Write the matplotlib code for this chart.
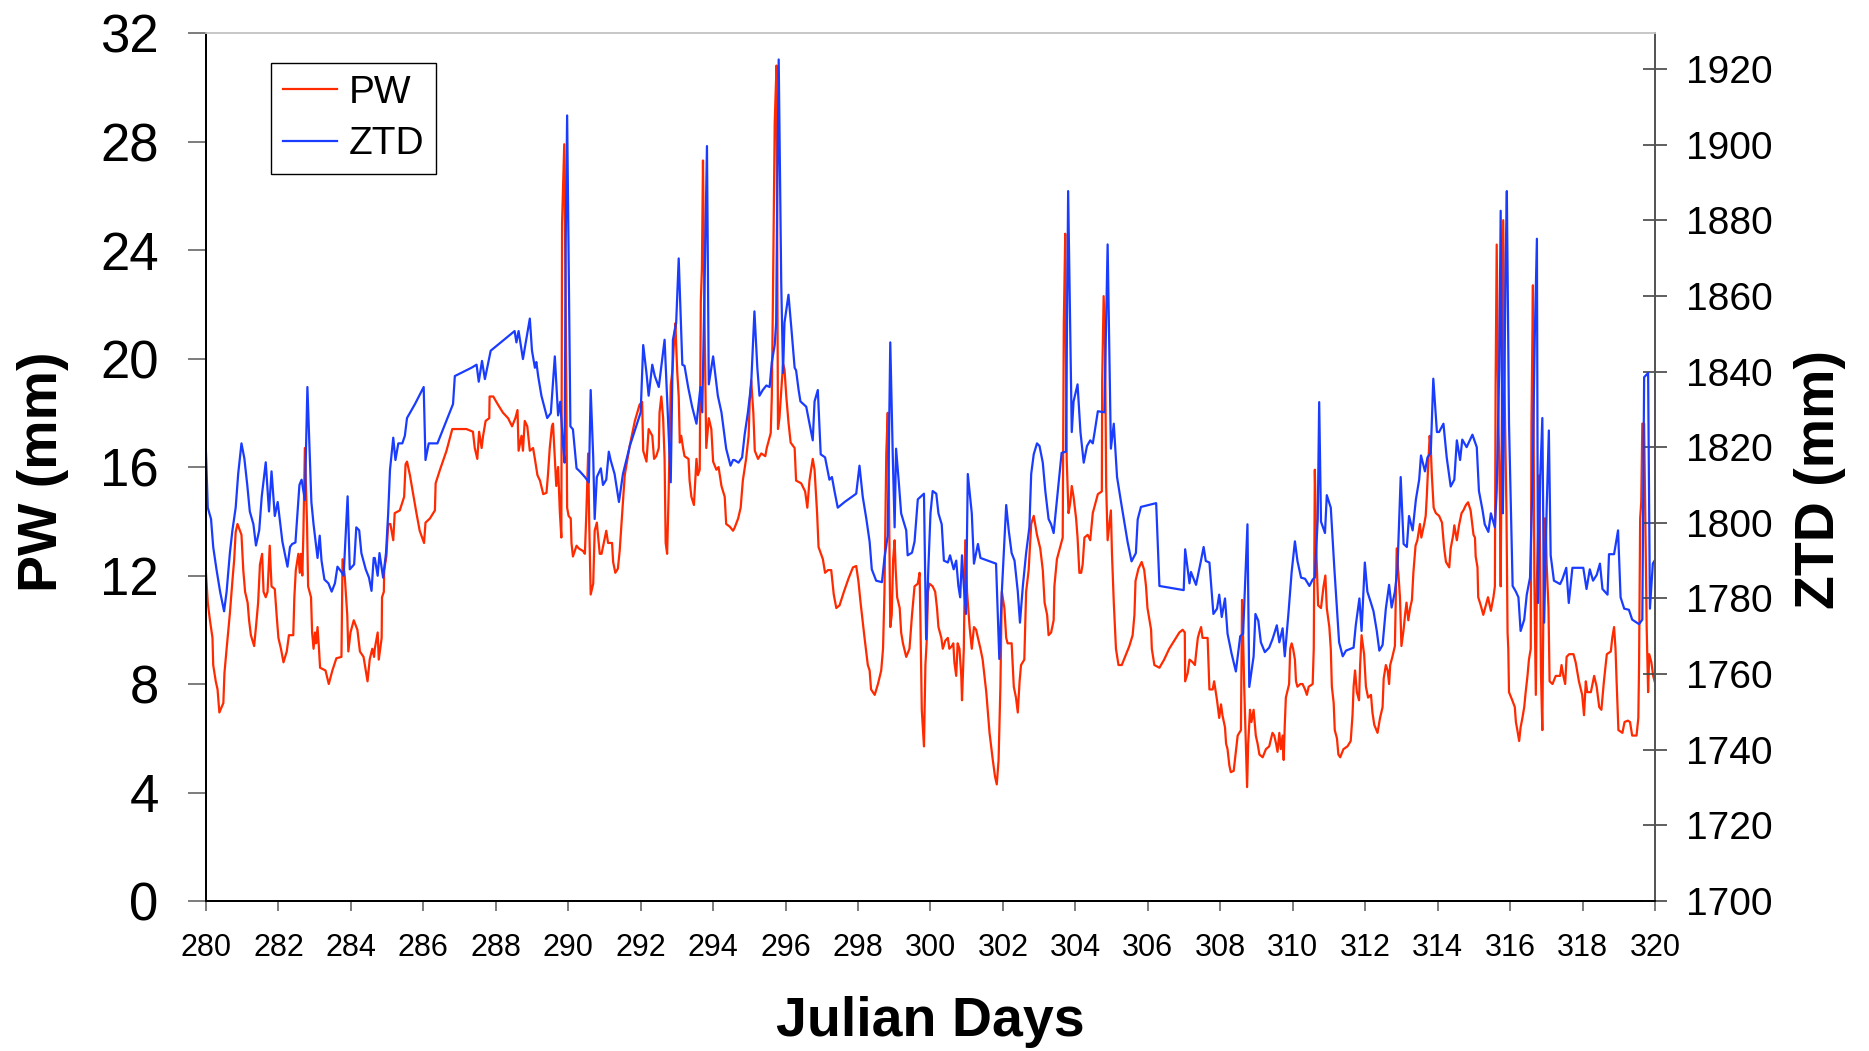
import matplotlib
matplotlib.use("Agg")
import matplotlib.pyplot as plt

plt.rcParams['font.family'] = ['Liberation Sans', 'DejaVu Sans']

# precipitable water (mm) vs Julian day
pw_day = [
    280.00, 280.05, 280.11, 280.18, 280.20, 280.27, 280.32, 280.37, 280.48, 280.51,
    280.57, 280.66, 280.73, 280.78, 280.82, 280.87, 280.98, 281.03, 281.08, 281.15,
    281.19, 281.24, 281.33, 281.38, 281.44, 281.49, 281.55, 281.59, 281.65, 281.70,
    281.76, 281.81, 281.90, 281.95, 282.00, 282.07, 282.14, 282.23, 282.29, 282.41,
    282.44, 282.48, 282.55, 282.59, 282.62, 282.66, 282.69, 282.73, 282.79, 282.82,
    282.90, 282.93, 282.97, 283.01, 283.04, 283.08, 283.12, 283.15, 283.30, 283.39,
    283.49, 283.60, 283.74, 283.77, 283.83, 283.90, 283.93, 283.99, 284.08, 284.18,
    284.25, 284.35, 284.40, 284.46, 284.52, 284.59, 284.64,
    284.66, 284.74, 284.77, 284.85, 284.86, 284.91, 284.92, 284.98, 285.03, 285.09,
    285.17, 285.21, 285.35, 285.47, 285.51, 285.55, 285.63, 285.72, 285.81, 285.90,
    286.02, 286.06, 286.18, 286.32, 286.34, 286.46, 286.64, 286.80, 286.96, 287.19,
    287.37, 287.42, 287.49, 287.54, 287.61, 287.65, 287.72, 287.82, 287.83, 287.93,
    288.06, 288.20, 288.34, 288.45, 288.54, 288.60, 288.63, 288.71, 288.75, 288.80,
    288.87, 288.94, 289.03, 289.08, 289.15, 289.22, 289.31, 289.40, 289.44, 289.49,
    289.55, 289.58,
    289.63, 289.67, 289.72, 289.77, 289.81, 289.83, 289.89, 289.93, 289.97, 290.01,
    290.07, 290.09, 290.13, 290.23, 290.29, 290.41, 290.46, 290.50, 290.55, 290.58,
    290.62, 290.69, 290.73, 290.79, 290.87, 290.92, 290.98, 291.05, 291.10, 291.21,
    291.24, 291.30, 291.37, 291.42, 291.47, 291.51, 291.56, 291.70, 291.84, 291.97,
    292.04, 292.07, 292.16, 292.22, 292.32, 292.37, 292.43, 292.50, 292.52, 292.57,
    292.62, 292.66, 292.69, 292.73, 292.77, 292.83, 292.88, 292.92, 292.96, 292.98,
    293.01, 293.05, 293.08, 293.12, 293.17, 293.21, 293.32, 293.35, 293.40, 293.47,
    293.54, 293.58, 293.63, 293.66, 293.69, 293.72, 293.77, 293.81, 293.88, 293.95,
    294.00, 294.09, 294.15, 294.23, 294.32, 294.36, 294.46, 294.55,
    294.59, 294.69, 294.76, 294.82, 294.91, 294.98, 295.01, 295.05, 295.11, 295.15,
    295.24, 295.33, 295.44, 295.48, 295.59, 295.62, 295.65, 295.70, 295.75, 295.79,
    295.83, 295.88, 295.93, 295.97, 296.02, 296.08, 296.14, 296.25, 296.29, 296.43,
    296.54, 296.60, 296.66, 296.75, 296.80, 296.87, 296.91, 297.03, 297.09, 297.17,
    297.26, 297.33, 297.40, 297.49, 297.61, 297.74, 297.86, 297.95, 298.01, 298.07,
    298.18, 298.27, 298.32, 298.36, 298.46, 298.55, 298.64, 298.69, 298.73, 298.78,
    298.82, 298.85, 298.89, 298.93, 298.97, 299.01, 299.04, 299.08, 299.15, 299.19,
    299.24, 299.33, 299.42, 299.49,
    299.56, 299.65, 299.70, 299.72, 299.76, 299.82, 299.86, 299.90, 299.93, 299.97,
    300.06, 300.13, 300.18, 300.22, 300.30, 300.34, 300.41, 300.48, 300.52, 300.59,
    300.63, 300.66, 300.71, 300.75, 300.80, 300.85, 300.87, 300.92, 300.96, 301.01,
    301.08, 301.14, 301.20, 301.26, 301.31, 301.38, 301.44, 301.54, 301.63, 301.72,
    301.78, 301.83, 301.88, 301.93, 301.97, 302.04, 302.09, 302.13, 302.24, 302.30,
    302.36, 302.41, 302.46, 302.50, 302.59, 302.64, 302.71, 302.78, 302.85, 302.94,
    303.03, 303.10, 303.15, 303.22, 303.26, 303.33, 303.40, 303.42, 303.49, 303.59,
    303.65, 303.68, 303.72, 303.76, 303.81, 303.86, 303.90, 303.95, 304.02, 304.06,
    304.11, 304.16, 304.20, 304.25, 304.34, 304.41, 304.48,
    304.52, 304.62, 304.73, 304.74, 304.78, 304.82, 304.85, 304.89, 304.94, 304.98,
    305.01, 305.06, 305.12, 305.19, 305.28, 305.40, 305.49, 305.58, 305.63, 305.66,
    305.74, 305.83, 305.90, 305.95, 305.99, 306.09, 306.11, 306.18, 306.32, 306.45,
    306.59, 306.73, 306.87, 306.96, 307.02, 307.03, 307.10, 307.15, 307.24, 307.30,
    307.33, 307.38, 307.42, 307.47, 307.51, 307.65, 307.70, 307.79, 307.83, 307.91,
    307.97, 308.02, 308.06, 308.13, 308.16, 308.20, 308.25, 308.29, 308.37, 308.43,
    308.48, 308.57, 308.60, 308.63, 308.66, 308.71, 308.74, 308.77, 308.82, 308.86,
    308.92, 308.98, 309.03, 309.08, 309.17, 309.26, 309.35, 309.44,
    309.49, 309.54, 309.58, 309.63, 309.67, 309.72, 309.75, 309.78, 309.81, 309.88,
    309.90, 309.93, 309.97, 310.01, 310.06, 310.09, 310.13, 310.21, 310.27, 310.34,
    310.39, 310.44, 310.55, 310.58, 310.61, 310.65, 310.70, 310.78, 310.85, 310.90,
    310.94, 311.01, 311.05, 311.08, 311.13, 311.16, 311.22, 311.26, 311.31, 311.40,
    311.51, 311.60, 311.65, 311.68, 311.72, 311.77, 311.83, 311.86, 311.90, 311.97,
    312.02, 312.08, 312.16, 312.20, 312.25, 312.34, 312.41, 312.48, 312.51, 312.57,
    312.62, 312.66, 312.69, 312.75, 312.82, 312.87, 312.91, 312.96, 313.00, 313.06,
    313.10, 313.14, 313.19, 313.24, 313.29, 313.33, 313.39, 313.44, 313.51, 313.55,
    313.63, 313.67, 313.70, 313.74, 313.78, 313.81, 313.84, 313.89, 313.95, 314.04,
    314.12, 314.18, 314.23, 314.32, 314.36, 314.43,
    314.46, 314.53, 314.59, 314.66, 314.71, 314.78, 314.84, 314.91, 314.99, 315.03,
    315.05, 315.10, 315.12, 315.19, 315.26, 315.33, 315.39, 315.47, 315.54, 315.58,
    315.60, 315.63, 315.68, 315.72, 315.74, 315.77, 315.81, 315.85, 315.90, 315.93,
    315.95, 315.97, 316.06, 316.13, 316.16, 316.20, 316.25, 316.29, 316.34, 316.39,
    316.43, 316.48, 316.52, 316.57, 316.59, 316.63, 316.67, 316.71, 316.74, 316.77,
    316.81, 316.85, 316.89, 316.94, 316.98, 317.01, 317.06, 317.09, 317.17, 317.26,
    317.38, 317.42, 317.47, 317.52, 317.56, 317.63, 317.75, 317.81, 317.90, 317.99,
    318.04, 318.09, 318.13, 318.23, 318.32, 318.39, 318.46, 318.52, 318.59, 318.67,
    318.78, 318.82, 318.87, 318.91, 318.94, 318.99, 319.10, 319.16, 319.25, 319.31,
    319.37, 319.49, 319.54, 319.56, 319.59, 319.62, 319.65, 319.70, 319.74, 319.77,
    319.81, 319.84, 319.90, 319.95, 319.99,
]
pw = [
    12.1, 11.0, 10.35, 9.7, 8.7, 8.1, 7.8, 6.95, 7.3, 8.4,
    9.3, 10.6, 11.8, 12.6, 13.6, 13.9, 13.5, 12.2, 11.4, 11.0,
    10.35, 9.8, 9.4, 10.1, 11.0, 12.4, 12.8, 11.4, 11.2, 11.4,
    13.1, 11.6, 11.5, 10.55, 9.7, 9.3, 8.8, 9.2, 9.8, 9.8,
    11.2, 12.2, 12.8, 12.1, 12.8, 12.0, 13.6, 16.7, 13.9, 11.6,
    11.2, 9.9, 9.3, 9.9, 9.5, 10.1, 9.3, 8.6, 8.5, 8.0,
    8.5, 8.95, 9.0, 12.6, 12.0, 10.55, 9.2, 9.9, 10.35, 10.0,
    9.2, 9.0, 8.6, 8.1, 8.9, 9.3, 9.0,
    9.3, 9.9, 8.9, 9.7, 11.2, 11.4, 12.2, 12.7, 13.9, 13.9,
    13.3, 14.3, 14.4, 14.9, 16.1, 16.2, 15.7, 15.0, 14.3, 13.65,
    13.2, 13.95, 14.1, 14.4, 15.4, 15.9, 16.6, 17.4, 17.4, 17.4,
    17.3, 16.7, 16.3, 17.3, 16.7, 17.15, 17.7, 17.8, 18.6, 18.6,
    18.3, 18.0, 17.8, 17.5, 17.8, 18.1, 16.6, 17.15, 16.6, 17.7,
    17.5, 16.6, 16.7, 16.3, 15.7, 15.5, 15.0, 15.05, 15.7, 16.7,
    17.5, 17.6,
    16.3, 15.3, 16.0, 14.3, 13.4, 25.0, 27.9, 22.1, 14.5, 14.2,
    14.1, 13.2, 12.7, 13.1, 13.0, 12.9, 12.8, 14.3, 16.5, 13.9,
    11.3, 11.7, 13.65, 13.95, 12.8, 12.8, 13.2, 13.65, 13.2, 13.2,
    12.5, 12.1, 12.25, 12.9, 13.9, 14.7, 15.7, 16.8, 17.7, 18.3,
    18.4, 16.6, 16.2, 17.4, 17.15, 16.3, 16.4, 16.7, 18.0, 18.6,
    17.8, 16.3, 13.2, 12.8, 14.9, 19.0, 19.6, 20.6, 21.3, 20.5,
    19.5, 18.6, 16.9, 17.15, 16.7, 16.4, 16.3, 15.5, 14.9, 14.6,
    16.3, 15.7, 15.9, 22.1, 23.3, 27.3, 20.7, 16.7, 17.8, 17.4,
    16.2, 15.9, 16.0, 15.3, 14.9, 13.9, 13.8, 13.65,
    13.75, 14.1, 14.5, 15.5, 16.3, 17.15, 18.4, 19.2, 18.0, 16.6,
    16.3, 16.5, 16.4, 16.7, 17.25, 18.6, 22.1, 28.7, 30.8, 17.4,
    17.8, 18.8, 19.8, 19.6, 18.6, 17.65, 16.9, 16.7, 15.5, 15.4,
    15.1, 14.5, 15.5, 16.3, 15.9, 14.3, 13.05, 12.6, 12.1, 12.2,
    12.2, 11.3, 10.8, 10.9, 11.4, 11.9, 12.3, 12.35, 11.8, 11.0,
    9.7, 8.7, 8.5, 7.8, 7.6, 8.0, 8.5, 9.3, 11.4, 16.5,
    18.0, 15.5, 10.1, 10.55, 12.6, 13.3, 12.2, 11.2, 10.8, 9.9,
    9.5, 9.0, 9.3, 10.55,
    11.6, 11.7, 12.1, 10.55, 7.05, 5.7, 8.7, 9.7, 11.4, 11.7,
    11.6, 11.4, 10.8, 10.1, 9.7, 9.3, 9.6, 9.7, 9.3, 9.4,
    9.5, 8.8, 8.3, 9.5, 9.3, 8.3, 7.4, 9.3, 13.3, 11.4,
    10.1, 9.3, 10.1, 10.0, 9.7, 9.3, 8.9, 7.7, 6.2, 5.2,
    4.6, 4.3, 5.2, 7.9, 11.4, 10.8, 9.7, 9.5, 9.5, 7.9,
    7.5, 6.95, 8.1, 8.7, 8.9, 11.4, 12.2, 13.9, 14.2, 13.5,
    13.0, 12.2, 11.0, 10.55, 9.8, 9.9, 10.35, 11.6, 12.6, 13.1,
    13.4, 21.3, 24.6, 16.3, 14.3, 14.7, 15.3, 14.9, 14.1, 13.4,
    12.1, 12.1, 12.4, 13.4, 13.5, 13.3, 14.3,
    14.5, 15.0, 15.1, 19.2, 22.3, 20.5, 15.3, 13.3, 13.9, 14.4,
    12.8, 11.0, 9.3, 8.7, 8.7, 9.1, 9.4, 9.8, 10.55, 11.8,
    12.25, 12.5, 12.2, 11.6, 10.8, 10.0, 9.3, 8.7, 8.6, 8.9,
    9.3, 9.6, 9.9, 10.0, 9.9, 8.1, 8.4, 8.9, 8.8, 8.7,
    9.1, 9.7, 9.9, 10.1, 9.7, 9.7, 7.8, 7.8, 8.1, 7.4,
    6.75, 7.25, 6.85, 6.4, 5.8, 5.6, 5.0, 4.75, 4.8, 5.5,
    6.1, 6.3, 11.1, 9.7, 7.9, 5.6, 4.2, 5.8, 7.05, 6.6,
    7.05, 6.1, 5.8, 5.4, 5.3, 5.6, 5.7, 6.2,
    6.1, 5.8, 5.5, 6.2, 5.6, 6.1, 5.2, 6.5, 7.5, 7.9,
    8.0, 9.3, 9.5, 9.3, 8.9, 8.1, 7.9, 8.0, 8.0, 7.8,
    7.6, 7.9, 8.0, 9.3, 15.9, 13.0, 10.9, 10.8, 11.6, 12.0,
    10.8, 10.1, 9.3, 7.9, 7.3, 6.3, 6.0, 5.4, 5.3, 5.6,
    5.7, 5.9, 6.85, 7.9, 8.5, 7.7, 7.4, 8.7, 9.8, 9.1,
    7.9, 7.5, 7.6, 6.95, 6.5, 6.2, 6.75, 7.15, 8.2, 8.7,
    8.5, 8.0, 8.7, 9.0, 9.4, 13.0, 12.2, 11.2, 9.4, 10.0,
    10.55, 11.0, 10.35, 10.8, 11.1, 12.1, 13.1, 13.3, 13.9, 13.4,
    13.9, 14.2, 14.9, 16.1, 17.15, 16.7, 15.7, 14.5, 14.3, 14.2,
    13.95, 13.0, 12.5, 12.3, 13.0, 13.5,
    13.85, 13.3, 13.85, 14.3, 14.4, 14.6, 14.7, 14.4, 13.5, 13.4,
    12.7, 12.3, 11.2, 10.9, 10.55, 10.9, 11.2, 10.7, 11.2, 11.6,
    19.0, 24.2, 17.6, 14.7, 11.6, 17.6, 25.1, 18.6, 14.3, 9.9,
    9.3, 7.7, 7.4, 7.15, 6.6, 6.3, 5.9, 6.4, 6.75, 7.15,
    7.7, 8.3, 8.9, 9.3, 17.6, 22.7, 11.8, 7.6, 11.8, 13.4,
    15.7, 8.5, 6.3, 14.1, 14.1, 12.4, 10.8, 8.1, 8.0, 8.3,
    8.3, 8.7, 8.3, 8.0, 9.0, 9.1, 9.1, 8.8, 8.1, 7.6,
    6.85, 8.1, 7.7, 7.7, 8.3, 7.9, 7.15, 7.05, 8.1, 9.1,
    9.2, 9.7, 10.1, 9.3, 8.1, 6.3, 6.2, 6.6, 6.65, 6.6,
    6.1, 6.1, 6.75, 8.7, 14.1, 14.7, 17.6, 17.6, 13.4, 10.1,
    7.7, 9.1, 8.8, 8.3, 8.1,
]

# zenith total delay (mm) vs Julian day
ztd_day = [
    280.00, 280.05, 280.14, 280.20, 280.29, 280.39, 280.50, 280.57, 280.66, 280.73,
    280.82, 280.89, 280.98, 281.06, 281.14, 281.21, 281.31, 281.38, 281.47, 281.54,
    281.65, 281.74, 281.81, 281.90, 281.98, 282.11, 282.25, 282.32, 282.38, 282.47,
    282.58, 282.64, 282.73, 282.80, 282.91, 282.97, 283.08, 283.14, 283.19, 283.27,
    283.38, 283.47, 283.56, 283.63, 283.74, 283.80, 283.91, 283.97, 284.09, 284.15,
    284.23, 284.29, 284.41, 284.50, 284.57, 284.63,
    284.66, 284.74, 284.79, 284.89, 284.97, 285.03, 285.08, 285.17, 285.23, 285.31,
    285.42, 285.49, 285.55, 285.77, 286.01, 286.06, 286.15, 286.39, 286.82, 286.87,
    287.33, 287.47, 287.53, 287.62, 287.70, 287.86, 288.46, 288.52, 288.57, 288.63,
    288.75, 288.94, 289.00, 289.08, 289.12, 289.17, 289.26, 289.42, 289.52,
    289.63, 289.72, 289.78, 289.86, 289.90, 289.93, 289.97, 290.06, 290.13, 290.23,
    290.32, 290.46, 290.57, 290.62, 290.69, 290.73, 290.79, 290.90, 290.96, 291.05,
    291.12, 291.17, 291.28, 291.40, 291.51, 291.70, 292.00, 292.07, 292.16, 292.22,
    292.32, 292.39, 292.50, 292.66, 292.83, 292.89, 292.98, 293.05, 293.15, 293.21,
    293.31, 293.42, 293.54, 293.65, 293.70, 293.77, 293.83, 293.88, 294.00, 294.13,
    294.23, 294.36, 294.48, 294.55,
    294.59, 294.70, 294.80, 294.87, 294.96, 295.05, 295.14, 295.22, 295.28, 295.37,
    295.47, 295.56, 295.62, 295.70, 295.74, 295.77, 295.81, 295.88, 295.93, 295.97,
    296.08, 296.16, 296.25, 296.29, 296.36, 296.41, 296.57, 296.66, 296.75, 296.80,
    296.89, 296.97, 297.09, 297.21, 297.28, 297.35, 297.44, 297.63, 297.95, 298.04,
    298.13, 298.23, 298.32, 298.38, 298.50, 298.66, 298.73, 298.82, 298.89, 298.96,
    299.01, 299.05, 299.12, 299.19, 299.28, 299.33, 299.37, 299.49,
    299.56, 299.65, 299.74, 299.82, 299.88, 299.94, 300.00, 300.06, 300.16, 300.22,
    300.31, 300.37, 300.48, 300.54, 300.64, 300.71, 300.77, 300.82, 300.87, 300.92,
    300.98, 301.03, 301.14, 301.20, 301.31, 301.38, 301.81, 301.90, 301.97, 302.09,
    302.16, 302.24, 302.32, 302.41, 302.47, 302.55, 302.64, 302.73, 302.78, 302.85,
    302.94, 303.01, 303.10, 303.17, 303.26, 303.33, 303.40, 303.47, 303.56, 303.62,
    303.74, 303.80, 303.90, 303.95, 304.06, 304.14, 304.23, 304.32, 304.41, 304.48,
    304.52, 304.62, 304.80, 304.89, 304.98, 305.06, 305.15, 305.26, 305.35, 305.44,
    305.55, 305.67, 305.72, 305.81, 306.23, 306.32, 306.99, 307.03, 307.15, 307.19,
    307.33, 307.45, 307.54, 307.60, 307.70, 307.81, 307.91, 307.97, 308.04, 308.13,
    308.20, 308.31, 308.43, 308.55, 308.63, 308.75, 308.80, 308.92, 308.97, 309.05,
    309.12, 309.23, 309.35, 309.44,
    309.49, 309.56, 309.63, 309.72, 309.78, 309.88, 309.97, 310.06, 310.13, 310.23,
    310.34, 310.46, 310.55, 310.61, 310.69, 310.73, 310.78, 310.89, 310.94, 311.05,
    311.15, 311.28, 311.38, 311.47, 311.68, 311.74, 311.84, 311.90, 311.99, 312.06,
    312.16, 312.23, 312.32, 312.39, 312.48, 312.57, 312.66, 312.73, 312.82, 312.89,
    312.98, 313.06, 313.15, 313.21, 313.31, 313.40, 313.49, 313.54, 313.65, 313.72,
    313.81, 313.88, 313.98, 314.04, 314.16, 314.25, 314.36,
    314.46, 314.53, 314.62, 314.68, 314.80, 314.96, 315.08, 315.14, 315.24, 315.30,
    315.40, 315.47, 315.58, 315.63, 315.70, 315.74, 315.80, 315.83, 315.88, 315.91,
    315.97, 316.07, 316.16, 316.23, 316.29, 316.39, 316.46, 316.55, 316.62, 316.68,
    316.74, 316.77, 316.83, 316.89, 316.94, 317.01, 317.07, 317.12, 317.21, 317.38,
    317.44, 317.55, 317.62, 317.72, 318.02, 318.11, 318.20, 318.29, 318.39, 318.48,
    318.55, 318.69, 318.73, 318.87, 318.98, 319.05, 319.15, 319.28, 319.37, 319.56,
    319.65, 319.70, 319.81, 319.86, 319.94, 319.99,
]
ztd = [
    1818.8, 1804.0, 1801.0, 1793.6, 1787.7, 1781.8, 1776.6, 1781.8, 1792.0, 1798.0,
    1804.0, 1813.0, 1821.0, 1817.0, 1810.0, 1803.0, 1799.6, 1794.0, 1798.0, 1807.0,
    1816.0, 1803.0, 1813.6, 1801.8, 1805.5, 1795.0, 1788.4, 1793.6, 1794.4, 1794.8,
    1810.0, 1811.4, 1806.0, 1835.9, 1805.5, 1799.6, 1790.7, 1796.6, 1790.0, 1785.0,
    1784.0, 1781.8, 1784.0, 1788.4, 1787.0, 1786.0, 1807.0, 1787.7, 1789.0, 1798.8,
    1798.0, 1792.0, 1787.7, 1785.5, 1782.0, 1790.7,
    1790.7, 1786.0, 1792.0, 1785.5, 1792.0, 1802.5, 1814.0, 1822.5, 1816.6, 1821.0,
    1821.0, 1823.0, 1827.7, 1831.4, 1835.9, 1816.6, 1821.0, 1821.0, 1831.4, 1838.8,
    1841.0, 1841.8, 1837.3, 1842.8, 1838.0, 1845.5, 1850.2, 1850.7, 1847.7, 1850.7,
    1843.3, 1854.0, 1845.5, 1841.0, 1842.5, 1838.8, 1833.6, 1827.7, 1829.0,
    1844.0, 1828.4, 1832.0, 1820.3, 1815.9, 1873.6, 1907.7, 1825.5, 1824.7, 1814.4,
    1813.6, 1812.1, 1810.7, 1835.1, 1817.3, 1801.0, 1812.1, 1814.4, 1810.0, 1811.4,
    1818.8, 1816.6, 1812.9, 1805.5, 1812.9, 1820.3, 1829.2, 1847.0, 1839.6, 1833.6,
    1841.8, 1838.8, 1835.9, 1848.4, 1810.7, 1848.4, 1852.9, 1869.9, 1841.8, 1841.5,
    1835.9, 1830.7, 1826.2, 1835.9, 1829.2, 1866.2, 1899.6, 1836.6, 1844.0, 1833.6,
    1829.2, 1819.6, 1815.1, 1816.6,
    1816.6, 1815.9, 1817.3, 1823.3, 1829.2, 1836.6, 1855.9, 1841.0, 1833.6, 1835.1,
    1836.3, 1835.9, 1842.5, 1847.0, 1852.9, 1885.5, 1922.5, 1863.3, 1839.6, 1852.9,
    1860.3, 1851.4, 1841.0, 1840.3, 1835.1, 1832.1, 1830.7, 1826.2, 1821.8, 1832.1,
    1835.1, 1818.1, 1817.3, 1811.4, 1812.1, 1808.4, 1804.0, 1805.5, 1807.7, 1815.1,
    1806.9, 1801.0, 1795.0, 1787.7, 1784.7, 1784.3, 1790.7, 1796.6, 1847.7, 1817.3,
    1798.8, 1819.6, 1811.4, 1802.5, 1799.6, 1798.0, 1791.4, 1792.1,
    1795.0, 1806.2, 1807.0, 1807.7, 1769.2, 1787.7, 1802.5, 1808.4, 1807.7, 1802.5,
    1799.6, 1790.0, 1789.5, 1791.4, 1787.7, 1790.0, 1783.3, 1780.3, 1791.4, 1783.3,
    1775.9, 1812.9, 1802.5, 1789.2, 1794.4, 1790.7, 1789.2, 1764.0, 1781.8, 1804.7,
    1798.0, 1792.0, 1790.0, 1781.8, 1773.6, 1783.3, 1792.0, 1798.8, 1812.9, 1818.1,
    1821.0, 1820.3, 1815.9, 1808.4, 1801.0, 1799.6, 1797.3, 1804.0, 1812.9, 1818.5,
    1818.8, 1887.7, 1824.0, 1832.1, 1836.6, 1824.0, 1815.9, 1820.3, 1821.8, 1821.0,
    1823.3, 1829.5, 1829.2, 1873.6, 1819.6, 1826.2, 1812.1, 1805.5, 1800.3, 1795.0,
    1789.8, 1792.0, 1800.9, 1804.2, 1805.2, 1783.3, 1782.2, 1793.0, 1784.0, 1787.0,
    1783.6, 1789.2, 1793.6, 1789.9, 1789.5, 1775.9, 1777.3, 1781.0, 1775.1, 1780.0,
    1770.7, 1765.5, 1760.7, 1770.0, 1770.7, 1799.6, 1756.6, 1764.7, 1775.9, 1774.1,
    1768.4, 1765.8, 1767.0, 1769.2,
    1770.7, 1772.9, 1768.4, 1772.1, 1764.7, 1775.9, 1787.0, 1795.1, 1789.9, 1785.5,
    1785.2, 1783.3, 1785.0, 1785.5, 1801.0, 1831.9, 1800.3, 1797.3, 1807.3, 1804.0,
    1787.7, 1768.4, 1764.7, 1766.2, 1767.0, 1772.9, 1780.0, 1771.4, 1789.5, 1781.8,
    1778.8, 1776.6, 1771.4, 1766.2, 1767.7, 1777.3, 1783.6, 1777.6, 1781.8, 1787.7,
    1812.1, 1794.4, 1793.6, 1801.8, 1798.0, 1806.2, 1811.4, 1817.8, 1813.6, 1817.3,
    1818.5, 1838.1, 1824.0, 1824.0, 1826.2, 1817.3, 1809.6,
    1811.4, 1821.8, 1816.6, 1822.0, 1820.0, 1823.3, 1820.0, 1808.4, 1803.3, 1799.6,
    1797.6, 1802.5, 1798.8, 1808.4, 1841.0, 1882.5, 1802.5, 1826.2, 1870.7, 1887.7,
    1826.2, 1783.3, 1781.8, 1780.3, 1771.4, 1774.4, 1781.0, 1785.5, 1811.4, 1848.4,
    1875.1, 1778.8, 1811.4, 1827.7, 1773.6, 1804.0, 1824.4, 1791.4, 1784.7, 1783.8,
    1785.0, 1788.1, 1778.8, 1788.1, 1788.1, 1782.5, 1787.7, 1784.7, 1786.2, 1789.2,
    1782.5, 1781.0, 1791.7, 1791.7, 1798.0, 1780.3, 1777.3, 1777.0, 1774.4, 1773.2,
    1774.4, 1838.5, 1839.6, 1777.3, 1789.2, 1790.0,
]

day_ticks = list(range(280, 321, 2))
pw_ticks = list(range(0, 33, 4))
ztd_ticks = list(range(1700, 1921, 20))

fig = plt.figure(figsize=(18.69, 10.51), dpi=100)
ax = fig.add_axes([0.1102, 0.1427, 0.7753, 0.8259])
ax2 = ax.twinx()

l1, = ax.plot(pw_day, pw, color='#ff2a00', lw=1.6, label='PW')
l2, = ax2.plot(ztd_day, ztd, color='#1a3cff', lw=1.6, label='ZTD')

ax.set_xlim(280, 320)
ax.set_ylim(0, 32)
ax2.set_ylim(1700, 1929.5)

ax.set_xticks(day_ticks)
ax.set_yticks(pw_ticks)
ax2.set_yticks(ztd_ticks)

ax.tick_params(axis='x', direction='out', length=7.5, width=1.2, color='#666666',
               labelsize=22, pad=15.5)
ax.tick_params(axis='y', direction='out', length=13, width=1.2, color='#666666',
               labelsize=38, pad=21)
ax2.tick_params(axis='y', direction='inout', length=17, width=1.2, color='#444444',
                labelsize=28, pad=14)

for a in (ax, ax2):
    a.spines['top'].set_color('#c8c8c8')
    a.spines['left'].set_color('black')
    a.spines['bottom'].set_color('black')
    a.spines['right'].set_color('#555555')
    for s in a.spines.values():
        s.set_linewidth(1.3)

ax.set_xlabel('Julian Days', fontsize=40, fontweight='bold', va='center')
ax.xaxis.set_label_coords(0.5, -0.139)
ax.set_ylabel('PW (mm)', fontsize=40, fontweight='bold', va='center', ha='center')
ax.yaxis.set_label_coords(-0.1124, 0.494)
ax2.set_ylabel('ZTD (mm)', fontsize=40, fontweight='bold', va='center', ha='center',
               rotation=90)
ax2.yaxis.set_label_coords(1.1138, 0.486)

leg = ax2.legend([l1, l2], ['PW', 'ZTD'], loc='upper left',
                 bbox_to_anchor=(0.0448, 0.9654), borderaxespad=0,
                 fontsize=28, frameon=True, fancybox=False, framealpha=1,
                 edgecolor='black', handlelength=1.4, handletextpad=0.3,
                 borderpad=0.3, labelspacing=0.4)
leg.get_frame().set_linewidth(1.0)

fig.savefig('out.png', dpi=100)
